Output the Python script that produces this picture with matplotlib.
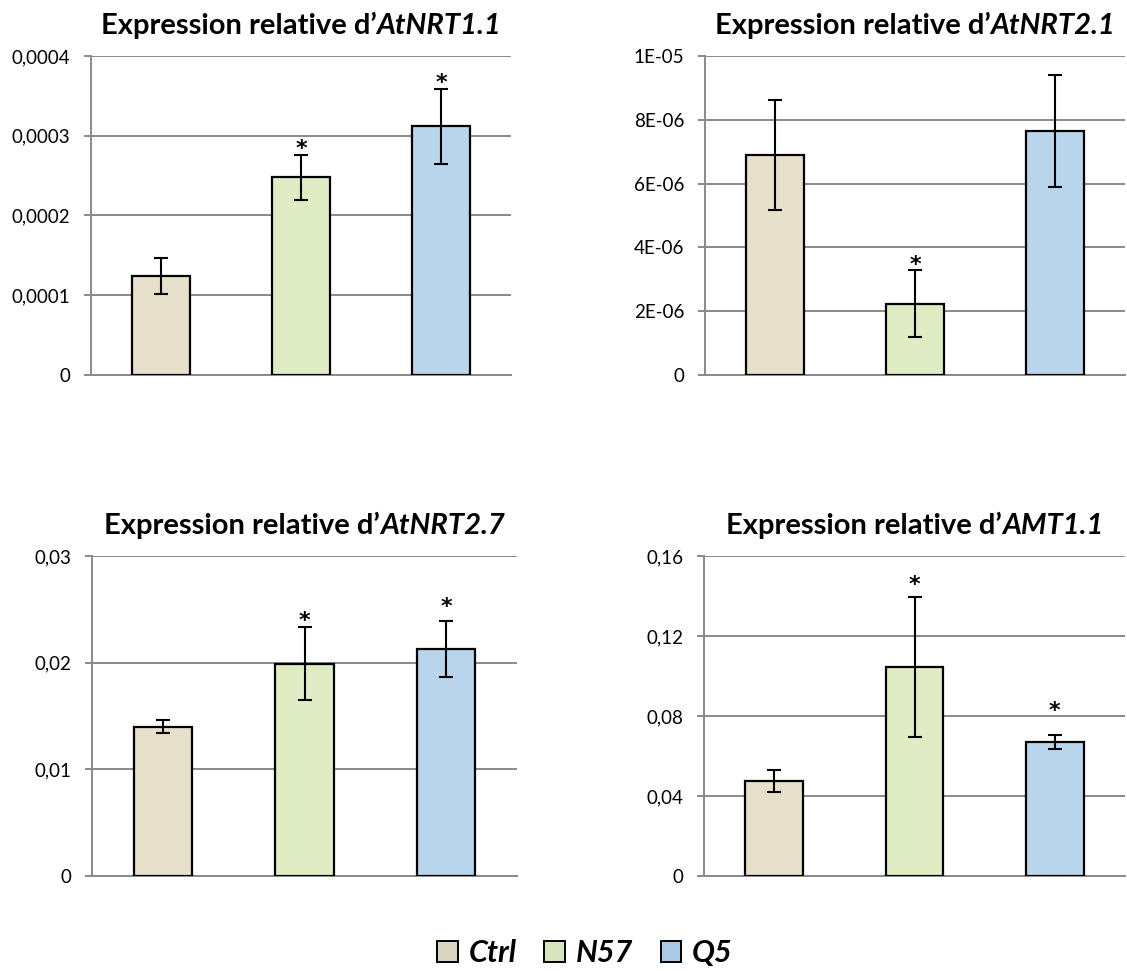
import matplotlib
matplotlib.use("Agg")
import matplotlib.pyplot as plt
from matplotlib.patches import Patch

plt.rcParams["font.family"] = ["Lato", "DejaVu Sans"]

# ----------------------------------------------------------------------------
# data
# ----------------------------------------------------------------------------
groups = ["Ctrl", "N57", "Q5"]

genes = ["AtNRT1.1", "AtNRT2.1", "AtNRT2.7", "AMT1.1"]

nrt11_mean = [0.000124, 0.000248, 0.000312]
nrt11_err  = [0.000023, 0.000028, 0.000047]
nrt11_star = [False, True, True]

nrt21_mean = [6.90e-06, 2.23e-06, 7.65e-06]
nrt21_err  = [1.72e-06, 1.05e-06, 1.75e-06]
nrt21_star = [False, True, False]

nrt27_mean = [0.0140, 0.0199, 0.0213]
nrt27_err  = [0.0006, 0.0034, 0.0026]
nrt27_star = [False, True, True]

amt11_mean = [0.0474, 0.1045, 0.0670]
amt11_err  = [0.0055, 0.0350, 0.0033]
amt11_star = [False, True, True]

nrt11_ticks = [0, 0.0001, 0.0002, 0.0003, 0.0004]
nrt11_ticklabels = ["0", "0,0001", "0,0002", "0,0003", "0,0004"]
nrt21_ticks = [0, 2e-06, 4e-06, 6e-06, 8e-06, 1e-05]
nrt21_ticklabels = ["0", "2E-06", "4E-06", "6E-06", "8E-06", "1E-05"]
nrt27_ticks = [0, 0.01, 0.02, 0.03]
nrt27_ticklabels = ["0", "0,01", "0,02", "0,03"]
amt11_ticks = [0, 0.04, 0.08, 0.12, 0.16]
amt11_ticklabels = ["0", "0,04", "0,08", "0,12", "0,16"]

# ----------------------------------------------------------------------------
# style
# ----------------------------------------------------------------------------
W, H = 1127, 971
BAR_COLORS    = ["#E6E0CA", "#E0ECC4", "#B9D5EC"]
LEGEND_COLORS = ["#D9D6BF", "#D5E5BC", "#AACAE8"]
GRID_COLOR = "#8A8A8A"

# axes boxes in pixels: left, top, right, bottom
BOXES = [
    (91, 56, 511, 375),
    (705, 56, 1125, 375),
    (92, 556, 517, 876),
    (704, 556, 1125, 876),
]
# offset (points) of the asterisk baseline above the error-bar top
STAR_GAP = [
    [0, 0, 0],
    [0, -0.5, 0],
    [0, 0, 6],
    [0, 4.3, 13.2],
]

panels = [
    (genes[0], nrt11_mean, nrt11_err, nrt11_star, nrt11_ticks, nrt11_ticklabels),
    (genes[1], nrt21_mean, nrt21_err, nrt21_star, nrt21_ticks, nrt21_ticklabels),
    (genes[2], nrt27_mean, nrt27_err, nrt27_star, nrt27_ticks, nrt27_ticklabels),
    (genes[3], amt11_mean, amt11_err, amt11_star, amt11_ticks, amt11_ticklabels),
]

fig = plt.figure(figsize=(W / 100, H / 100), dpi=100)
renderer = fig.canvas.get_renderer()


def mixed_title(ax, plain, ital, gap_px=22, size=21):
    """Bold title with italic gene name, centred over the axes."""
    t1 = fig.text(0, 0, plain, fontsize=size, fontweight="bold", va="baseline")
    t2 = fig.text(0, 0, ital, fontsize=size, fontweight="bold",
                  fontstyle="italic", va="baseline")
    w1 = t1.get_window_extent(renderer).width
    w2 = t2.get_window_extent(renderer).width
    pos = ax.get_position()
    cx = (pos.x0 + pos.x1) / 2 * W
    x0 = cx - (w1 + w2) / 2
    y = pos.y1 + gap_px / H
    t1.set_position((x0 / W, y))
    t2.set_position(((x0 + w1) / W, y))


x = list(range(len(groups)))
for k, (gene, mean, err, star, ticks, ticklabels) in enumerate(panels):
    l, t, r, b = BOXES[k]
    ax = fig.add_axes([l / W, 1 - b / H, (r - l) / W, (b - t) / H])
    ax.bar(x, mean, width=0.41, color=BAR_COLORS, edgecolor="black",
           linewidth=1.6, zorder=3)
    ax.errorbar(x, mean, yerr=err, fmt="none", ecolor="black",
                elinewidth=1.5, capsize=4.7, capthick=1.5, zorder=4)
    for i in x:
        if star[i]:
            ax.annotate("*", xy=(i, mean[i] + err[i]),
                        xytext=(0, STAR_GAP[k][i]), textcoords="offset points",
                        ha="center", va="baseline", fontsize=16,
                        fontweight="bold", family="DejaVu Sans")
    ax.set_xlim(-0.5, len(groups) - 0.5)
    ax.set_ylim(ticks[0], ticks[-1])
    ax.set_yticks(ticks)
    ax.set_yticklabels(ticklabels)
    ax.set_xticks([])
    ax.yaxis.grid(True, color=GRID_COLOR, linewidth=1.4)
    ax.set_axisbelow(True)
    for side in ["top", "right"]:
        ax.spines[side].set_visible(False)
    for side in ["left", "bottom"]:
        ax.spines[side].set_color(GRID_COLOR)
        ax.spines[side].set_linewidth(1.4)
    ax.tick_params(axis="y", length=5, width=1.4, color=GRID_COLOR,
                   labelsize=13.5, pad=10)
    mixed_title(ax, "Expression relative d\u2019", gene)

handles = [Patch(facecolor=c, edgecolor="black", linewidth=1.4) for c in LEGEND_COLORS]
fig.legend(handles, groups, loc="center", bbox_to_anchor=(585 / W, 1 - 953 / H),
           ncol=3, frameon=False, handlelength=0.68, handleheight=0.68,
           handletextpad=0.35, columnspacing=0.9,
           prop={"size": 22, "weight": "bold", "style": "italic"})

fig.savefig("out.png", dpi=100)
